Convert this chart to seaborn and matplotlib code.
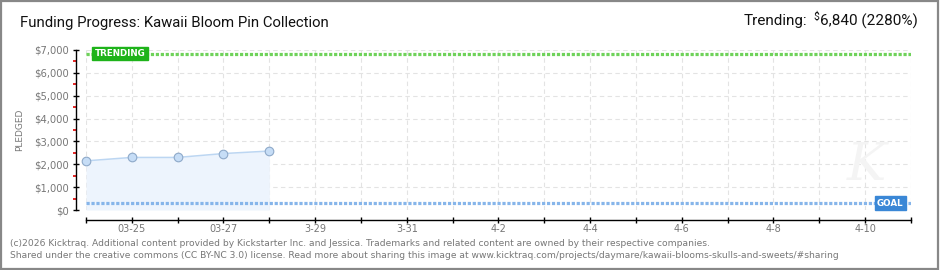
import matplotlib
matplotlib.use("Agg")
import matplotlib.pyplot as plt
import matplotlib.dates as mdates
from matplotlib.patches import Rectangle
from matplotlib.ticker import FixedLocator, FuncFormatter, MultipleLocator
import numpy as np
import pandas as pd
import seaborn as sns

# ---------------- data ----------------
dates = ["2026-03-24", "2026-03-25", "2026-03-26", "2026-03-27", "2026-03-28"]
pledged = [2150, 2300, 2300, 2470, 2580]
goal = 300
trending = 6840
trend_pct = 2280
x_start = "2026-03-24"
x_end = "2026-04-11"
tick_labels = ["", "03-25", "", "03-27", "", "3-29", "", "3-31", "", "4-2",
               "", "4-4", "", "4-6", "", "4-8", "", "4-10", ""]
y_max = 7000
title = "Funding Progress: Kawaii Bloom Pin Collection"
footer1 = ("(c)2026 Kicktraq. Additional content provided by Kickstarter Inc. and Jessica. "
           "Trademarks and related content are owned by their respective companies.")
footer2 = ("Shared under the creative commons (CC BY-NC 3.0) license. Read more about sharing "
           "this image at www.kicktraq.com/projects/daymare/kawaii-blooms-skulls-and-sweets/#sharing")

df = pd.DataFrame({"date": pd.to_datetime(dates), "pledged": pledged})

sns.set_theme(style="white")
plt.rcParams["font.family"] = ["DejaVu Sans"]
HEAD_FONT = ["Roboto", "Liberation Sans"]

W, H = 940, 270
fig = plt.figure(figsize=(W / 100, H / 100), dpi=100)
fig.patch.set_facecolor("white")
ax = fig.add_axes([86 / W, 60 / H, 825 / W, 160 / H])
ax.set_facecolor("white")

# grid
t0, t1 = pd.Timestamp(x_start), pd.Timestamp(x_end)
all_days = pd.date_range(t0, t1, freq="D")
ax.set_xlim(t0, t1)
ax.set_ylim(0, y_max)
ax.xaxis.set_major_locator(FixedLocator(mdates.date2num(all_days)))
ax.xaxis.set_major_formatter(FuncFormatter(
    lambda v, p: tick_labels[p] if p is not None and p < len(tick_labels) else ""))
ax.yaxis.set_major_locator(MultipleLocator(1000))
ax.yaxis.set_minor_locator(MultipleLocator(500))
ax.yaxis.set_major_formatter(FuncFormatter(lambda v, p: "$" + format(int(v), ",")))
ax.grid(True, which="major", color="#e3e3e3", linestyle=(0, (4, 3)), linewidth=0.8)
ax.set_axisbelow(True)

# area + line
ax.fill_between(df["date"], df["pledged"], 0, color="#edf4fd", zorder=1, linewidth=0)
sns.lineplot(data=df, x="date", y="pledged", ax=ax, color="#bcd6f2", linewidth=1.1,
             marker="o", markersize=6.2, markerfacecolor="#c6ddf6",
             markeredgecolor="#8ea9c9", markeredgewidth=0.8, zorder=3, clip_on=False)

# trending / goal lines
ax.axhline(trending, color="#6fd25a", linewidth=2.3, linestyle=(0, (1.0, 0.55)), zorder=2)
ax.axhline(goal, color="#86b5ea", linewidth=2.3, linestyle=(0, (1.0, 0.55)), zorder=2)

ax.text(0.0105, trending, "TRENDING", transform=ax.get_yaxis_transform(),
        ha="left", va="center", fontsize=6.3, color="white", fontweight="bold", zorder=5,
        bbox=dict(boxstyle="square,pad=0.25", fc="#1eb31a", ec="#1eb31a"))
ax.text(0.991, goal, "GOAL", transform=ax.get_yaxis_transform(),
        ha="right", va="center", fontsize=6.3, color="white", fontweight="bold", zorder=5,
        bbox=dict(boxstyle="square,pad=0.25", fc="#3a87d6", ec="#3a87d6"))

# spines
for s in ["top", "right"]:
    ax.spines[s].set_visible(False)
for s in ["left", "bottom"]:
    ax.spines[s].set_visible(True)
    ax.spines[s].set_color("black")
    ax.spines[s].set_linewidth(1.0)
    ax.spines[s].set_position(("outward", 7.2))

ax.tick_params(axis="x", which="major", direction="inout", length=4, width=1,
               color="black", labelsize=7, labelcolor="#777777", pad=1, bottom=True)
ax.tick_params(axis="y", which="major", direction="inout", length=4, width=1,
               color="black", labelsize=7.2, labelcolor="#777777", pad=3, left=True)
ax.tick_params(axis="y", which="minor", direction="out", length=2.5, width=1.2,
               color="#e00000", left=True)
ax.set_xlabel("")
ax.set_ylabel("")

# watermark
fig.text(866 / W, 1 - 166 / H, "K", fontsize=38, color="#f4f4f4",
         style="italic", ha="center", va="center", zorder=0, family="DejaVu Serif")

# titles
fig.text(20 / W, 1 - 23 / H, title, fontsize=10.7, color="#111111", ha="left", va="center",
         family=HEAD_FONT)
hdr_y = 1 - 21 / H
t_main = fig.text(918 / W, hdr_y, f"{trending:,} ({trend_pct}%)", fontsize=11.0, color="#111111",
                  ha="right", va="center", family=HEAD_FONT)
fig.canvas.draw()
r = fig.canvas.get_renderer()
bb = t_main.get_window_extent(r)
t_dol = fig.text((bb.x0 - 1) / W, hdr_y + 4 / H, "$", fontsize=7.5, color="#111111",
                 ha="right", va="center", family=HEAD_FONT)
bb2 = t_dol.get_window_extent(r)
fig.text((bb2.x0 - 6) / W, hdr_y, "Trending:", fontsize=11.0, color="#111111",
         ha="right", va="center", family=HEAD_FONT)

fig.text(20 / W, 1 - 130 / H, "PLEDGED", rotation=90, fontsize=6.5, color="#777777",
         ha="center", va="center")

fig.text(10 / W, 1 - 243 / H, footer1, fontsize=6.6, color="#777777", ha="left", va="center")
fig.text(10 / W, 1 - 255 / H, footer2, fontsize=6.6, color="#777777", ha="left", va="center")

# border
fig.patches.append(Rectangle((0.001, 0.002), 0.997, 0.995, transform=fig.transFigure,
                             fill=False, edgecolor="#888888", linewidth=1.6))

fig.savefig("out.png", dpi=100, facecolor="white")
